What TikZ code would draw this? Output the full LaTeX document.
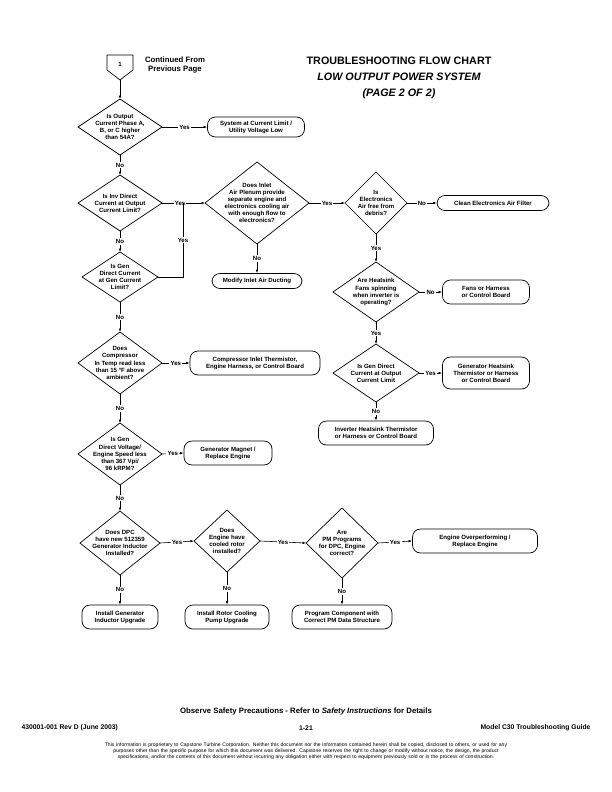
\documentclass[tikz,border=0pt]{standalone}
\usepackage{fontspec}
\setmainfont{Liberation Sans}
\usetikzlibrary{arrows.meta}
\newcommand\dia[6]{%
 \draw[line width=0.7pt] ({#2-#4},#3) -- (#2,{#3-#5}) -- ({#2+#4},#3) -- (#2,{#3+#5}) -- cycle;
 \coordinate (#1-l) at ({#2-#4},#3); \coordinate (#1-r) at ({#2+#4},#3);
 \coordinate (#1-t) at (#2,{#3-#5}); \coordinate (#1-b) at (#2,{#3+#5});
 \node[dtxt] (#1) at (#2,#3) {#6};}
\tikzset{
 dtxt/.style={font=\fontsize{6.1}{7.1}\selectfont\bfseries, align=center, inner sep=0pt},
 rbox/.style={draw, line width=0.7pt, rounded corners=8bp, font=\fontsize{6.1}{7.1}\selectfont\bfseries, align=center, inner sep=1pt},
 arr/.style={line width=0.6pt, -{Latex[length=3.5pt,width=2.5pt]}},
 ln/.style={line width=0.6pt},
 lab/.style={fill=white, font=\fontsize{6.1}{7.1}\selectfont\bfseries, inner sep=1.2pt},
}
\begin{document}
\begin{tikzpicture}[x=1bp,y=-1bp]
\useasboundingbox (0,0) rectangle (612,792);
% connector
\draw[line width=0.7pt] (107,55) -- (133,55) -- (133,70) -- (120,80) -- (107,70) -- cycle;
\coordinate (c1) at (120,80);
\node[dtxt] (c1t) at (120,64) {1};
\node[font=\fontsize{7.8}{9.4}\selectfont\bfseries, align=center] (cont) at (175,65) {Continued From\\Previous Page};
% title
\node[font=\fontsize{10.8}{16}\selectfont\bfseries, align=center] (title) at (399,78) {TROUBLESHOOTING FLOW CHART\\\itshape LOW OUTPUT POWER SYSTEM\\\itshape (PAGE 2 OF 2)};
% diamonds
\dia{d1}{120}{127}{42}{28}{Is Output\\Current Phase A,\\B, or C higher\\than 54A?}
\dia{d2}{120}{203}{42}{28}{Is Inv Direct\\Current at Output\\Current Limit?}
\dia{d3}{120}{277}{38}{25}{Is Gen\\Direct Current\\at Gen Current\\Limit?}
\dia{d4}{257}{203}{52}{41}{Does Inlet\\Air Plenum provide\\separate engine and\\electronics cooling air\\with enough flow to\\electronics?}
\dia{d5}{376}{203}{31}{31}{Is\\Electronics\\Air free from\\debris?}
\dia{d6}{376}{292}{43}{30}{Are Heatsink\\Fans spinning\\when inverter is\\operating?}
\dia{d7}{376}{373}{43}{29}{Is Gen Direct\\Current at Output\\Current Limit}
\dia{d8}{120}{363}{42}{31}{Does\\Compressor\\In Temp read less\\than 15 °F above\\ambient?}
\dia{d9}{120}{454}{42}{31}{Is Gen\\Direct Voltage/\\Engine Speed less\\than 367 Vpi/\\96 kRPM?}
\dia{d10}{120}{543}{40}{32}{Does DPC\\have new 512359\\Generator Inductor\\Installed?}
\dia{d11}{227}{541}{33}{31}{Does\\Engine have\\cooled rotor\\installed?}
\dia{d12}{342}{543}{36}{35}{Are\\PM Programs\\for DPC, Engine\\correct?}
% boxes
\node[rbox, minimum width=97bp, minimum height=20bp] (b1) at (256,127) {System at Current Limit /\\Utility Voltage Low};
\node[rbox, minimum width=90bp, minimum height=15bp] (b2) at (257,281) {Modify Inlet Air Ducting};
\node[rbox, minimum width=112bp, minimum height=15bp] (b3) at (493,203) {Clean Electronics Air Filter};
\node[rbox, minimum width=87bp, minimum height=24bp] (b4) at (486,292) {Fans or Harness\\or Control Board};
\node[rbox, minimum width=87bp, minimum height=32bp] (b5) at (486,373) {Generator Heatsink\\Thermistor or Harness\\or Control Board};
\node[rbox, minimum width=115bp, minimum height=24bp] (b6) at (376,433) {Inverter Heatsink Thermistor\\or Harness or Control Board};
\node[rbox, minimum width=130bp, minimum height=24bp] (b7) at (255,363) {Compressor Inlet Thermistor,\\Engine Harness, or Control Board};
\node[rbox, minimum width=88bp, minimum height=24bp] (b8) at (228,453) {Generator Magnet /\\Replace Engine};
\node[rbox, minimum width=125bp, minimum height=24bp] (b9) at (475,541) {Engine Overperforming /\\Replace Engine};
\node[rbox, minimum width=76bp, minimum height=24bp] (b10) at (120,617) {Install Generator\\Inductor Upgrade};
\node[rbox, minimum width=84bp, minimum height=24bp] (b11) at (227,617) {Install Rotor Cooling\\Pump Upgrade};
\node[rbox, minimum width=100bp, minimum height=24bp] (b12) at (342,617) {Program Component with\\Correct PM Data Structure};
% connectors
\draw[arr] (c1) -- (d1-t);
\draw[arr] (d1-r) -- node[lab]{Yes} (b1.west);
\draw[arr] (d1-b) -- node[lab]{No} (d2-t);
\draw[arr] (d2-b) -- node[lab]{No} (d3-t);
\draw[arr] (d2-r) -- node[lab, pos=0.42]{Yes} (d4-l);
\coordinate (j1) at (183,203);
\draw[ln] (d3-r) -- (183,277) -- node[lab]{Yes} (j1);
\draw[arr] (d4-b) -- node[lab]{No} (b2.north);
\draw[arr] (d4-r) -- node[lab]{Yes} (d5-l);
\draw[arr] (d5-r) -- node[lab]{No} (b3.west);
\draw[arr] (d5-b) -- node[lab]{Yes} (d6-t);
\draw[arr] (d6-r) -- node[lab]{No} (b4.west);
\draw[arr] (d6-b) -- node[lab]{Yes} (d7-t);
\draw[arr] (d7-r) -- node[lab]{Yes} (b5.west);
\draw[arr] (d7-b) -- node[lab]{No} (b6.north);
\draw[arr] (d3-b) -- node[lab]{No} (d8-t);
\draw[arr] (d8-r) -- node[lab]{Yes} (b7.west);
\draw[arr] (d8-b) -- node[lab]{No} (d9-t);
\draw[arr] (d9-r) -- node[lab]{Yes} (b8.west);
\draw[arr] (d9-b) -- node[lab]{No} (d10-t);
\draw[arr] (d10-r) -- node[lab]{Yes} (d11-l);
\draw[arr] (d11-r) -- node[lab]{Yes} (d12-l);
\draw[arr] (d12-r) -- node[lab]{Yes} (b9.west);
\draw[arr] (d10-b) -- node[lab]{No} (b10.north);
\draw[arr] (d11-b) -- node[lab]{No} (b11.north);
\draw[arr] (d12-b) -- node[lab]{No} (b12.north);
% footer
\node[font=\fontsize{7.8}{9}\selectfont\bfseries] (f1) at (306,711) {Observe Safety Precautions - Refer to \textit{Safety Instructions} for Details};
\node[font=\fontsize{6.8}{8}\selectfont\bfseries, anchor=west] (f2) at (18,728) {430001-001 Rev D (June 2003)};
\node[font=\fontsize{6.8}{8}\selectfont\bfseries] (f3) at (306,728) {1-21};
\node[font=\fontsize{6.8}{8}\selectfont\bfseries, anchor=east] (f4) at (594,728) {Model C30 Troubleshooting Guide};
\node[font=\fontsize{5.1}{6.3}\selectfont, align=center, text width=580bp] (f5) at (306,751) {\hyphenpenalty=10000 This information is proprietary to Capstone Turbine Corporation. Neither this document nor the information contained herein shall be copied, disclosed to others, or used for any\\purposes other than the specific purpose for which this document was delivered. Capstone reserves the right to change or modify without notice, the design, the product\\specifications, and/or the contents of this document without incurring any obligation either with respect to equipment previously sold or in the process of construction.};
\end{tikzpicture}
\end{document}
